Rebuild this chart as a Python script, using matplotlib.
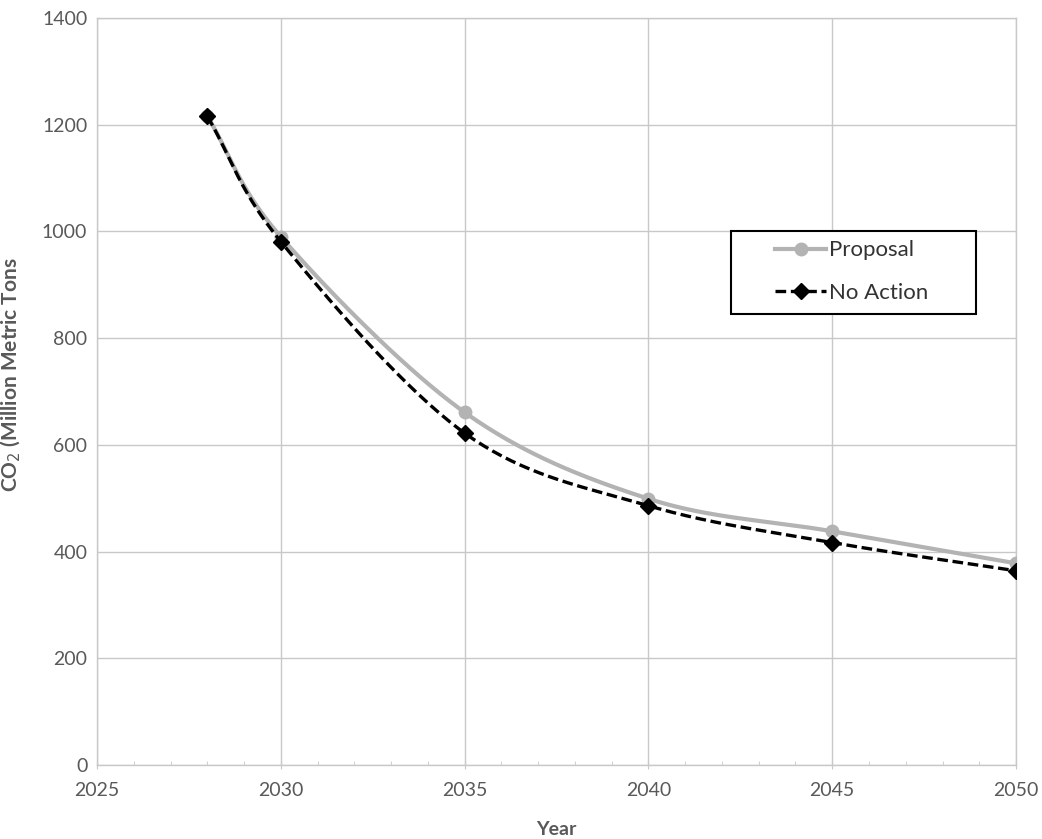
import numpy as np
import matplotlib
matplotlib.use("Agg")
import matplotlib.pyplot as plt
from matplotlib.ticker import MultipleLocator
from matplotlib.lines import Line2D
from matplotlib.patches import Rectangle

years = [2028, 2030, 2035, 2040, 2045, 2050]
proposal = [1216, 990, 661, 499, 438, 378]
no_action = [1216, 981, 622, 486, 417, 364]


def smooth(x, y, n=40):
    x = np.asarray(x, float); y = np.asarray(y, float)
    px = np.concatenate([[2 * x[0] - x[1]], x, [2 * x[-1] - x[-2]]])
    py = np.concatenate([[2 * y[0] - y[1]], y, [2 * y[-1] - y[-2]]])
    ox, oy = [], []
    for i in range(1, len(px) - 2):
        p0, p1, p2, p3 = [np.array([px[j], py[j]]) for j in range(i - 1, i + 3)]
        t = np.linspace(0, 1, n)[:, None]
        c1 = p1 + (p2 - p0) / 6
        c2 = p2 - (p3 - p1) / 6
        pts = (1 - t) ** 3 * p1 + 3 * (1 - t) ** 2 * t * c1 + 3 * (1 - t) * t ** 2 * c2 + t ** 3 * p2
        ox.extend(pts[:, 0]); oy.extend(pts[:, 1])
    return ox, oy


plt.rcParams['font.family'] = ['Lato', 'DejaVu Sans']
fig = plt.figure(figsize=(10.42, 8.39), dpi=100)
ax = fig.add_axes([0.0931, 0.0882, 0.8820, 0.8903])

gray = '#b3b3b3'
dash = (3.2, 1.4)
sx, sy = smooth(years, proposal)
ax.plot(sx, sy, color=gray, lw=3, zorder=3)
ax.plot(years, proposal, linestyle='none', marker='o', ms=9, color=gray, zorder=4)
nx, ny = smooth(years, no_action)
ax.plot(nx, ny, color='black', lw=2.4, dashes=dash, zorder=5)
ax.plot(years, no_action, linestyle='none', marker='D', ms=8.5, color='black', zorder=6)

# legend box
ax.add_patch(Rectangle((0.6899, 0.6037), 0.2666, 0.1111, transform=ax.transAxes,
                       facecolor='white', edgecolor='black', lw=1.5, zorder=10))
h1 = Line2D([], [], color=gray, lw=3, marker='o', ms=9)
h2 = Line2D([], [], color='black', lw=2.4, dashes=dash, marker='D', ms=8.5)
leg = ax.legend([h1, h2], ['Proposal', 'No Action'], loc='center left',
                bbox_to_anchor=(0.738, 0.6606), fontsize=16, frameon=False,
                handlelength=2.3, handletextpad=0.1, borderpad=0, labelspacing=1.0,
                borderaxespad=0)
leg.set_zorder(11)
for t in leg.get_texts():
    t.set_color('#333333')

ax.set_xlim(2025, 2050)
ax.set_ylim(0, 1400)
ax.xaxis.set_major_locator(MultipleLocator(5))
ax.xaxis.set_minor_locator(MultipleLocator(1))
ax.yaxis.set_major_locator(MultipleLocator(200))
ax.grid(True, which='major', color='#c8c8c8', lw=1)
ax.set_axisbelow(True)
for s in ax.spines.values():
    s.set_color('#c8c8c8')
    s.set_linewidth(1)
ax.tick_params(axis='both', which='major', colors='#c8c8c8', labelcolor='#595959',
               labelsize=14, length=0, pad=7)
ax.tick_params(axis='x', which='major', length=6, direction='inout', pad=9)
ax.tick_params(axis='x', which='minor', length=3, direction='in', colors='#c8c8c8')

ax.set_xlabel('Year', fontsize=14, fontweight='bold', color='#595959')
ax.xaxis.set_label_coords(0.5, -0.075)
ax.set_ylabel('CO$_2$ (Million Metric Tons', fontsize=15, fontweight='bold',
              color='#595959')
ax.yaxis.set_label_coords(-0.081, 0.523)

fig.savefig('out.png', dpi=100)
